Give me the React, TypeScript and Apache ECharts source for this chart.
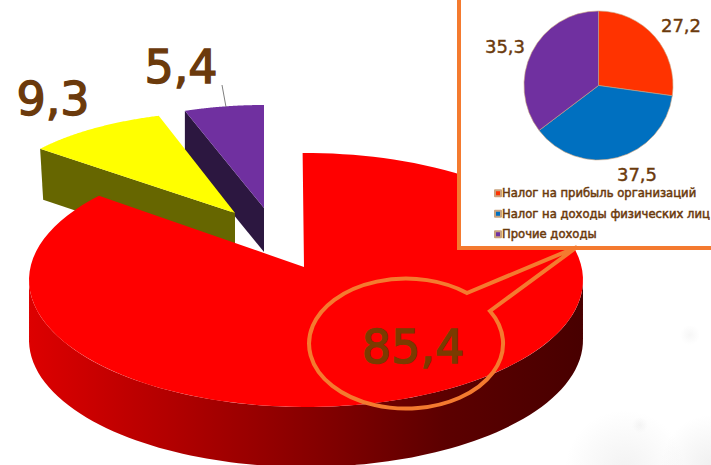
import React, { useEffect, useRef } from "react";
import * as echarts from "echarts";

const mainNames = ["Налог на доходы", "Сегмент 2", "Сегмент 3"];
const mainValues = [85.4, 9.3, 5.4];
const insetNames = ["Налог на прибыль организаций", "Налог на доходы физических лиц", "Прочие доходы"];
const insetValues = [27.2, 37.5, 35.3];
const insetColors = ["#FF3300", "#0070C0", "#7030A0"];
const insetLabelPos = [[681, 25], [637, 174], [505, 46]];

const brown = "#6B3A0C";
const orange = "#F47A2F";

const mainStyle = [
  { ax: 304, ay: 267, ox: 2, oy: 13, rx: 277, ry: 127, depth: 60, warp: -5.4, phase: -0.7, face: "#FF0000", z: 10, label: [413, 347], fill: "#7A3B00" },
  { ax: 235, ay: 213, ox: 0, oy: -11, rx: 240, ry: 91, depth: 51, warp: 6.87, phase: 5.2, face: "#FFFF00", side: "#666600", z: 5, label: [53, 99], fill: brown },
  { ax: 264, ay: 208, ox: 0, oy: 0, rx: 238, ry: 103, depth: 44, warp: 0, phase: 0, face: "#7030A0", side: "#2C1740", z: 1, label: [181, 67], fill: brown },
];

const fmt = (v: number) => String(v).replace(".", ",");
const total = mainValues.reduce((a, b) => a + b, 0);

function rimPoint(s: any, deg: number, dy = 0): number[] {
  const p = deg + s.phase + s.warp * Math.sin((2 * deg * Math.PI) / 180);
  const t = (p * Math.PI) / 180;
  return [s.ax + s.ox + s.rx * Math.sin(t), s.ay + s.oy - s.ry * Math.cos(t) + dy];
}

function renderSlice(params: any, api: any) {
  const i = params.dataIndex;
  const value = api.value(0);
  const s = mainStyle[i];
  let before = 0;
  for (let k = 0; k < i; k++) before += mainValues[k];
  const a0 = (before / total) * 360;
  const a1 = ((before + value) / total) * 360;
  const pts: number[][] = [[s.ax, s.ay]];
  for (let a = a0; a <= a1 + 1e-6; a += (a1 - a0) / 120) pts.push(rimPoint(s, a));
  const children: any[] = [];
  if (i === 0) {
    const top: number[][] = [];
    const bottom: number[][] = [];
    for (let a = 90; a <= 270; a += 2) {
      top.push(rimPoint(s, a));
      bottom.push(rimPoint(s, a, s.depth));
    }
    children.push({
      type: "polygon",
      z2: s.z,
      shape: { points: top.concat(bottom.reverse()) },
      style: {
        fill: new echarts.graphic.LinearGradient(1, 0, 0, 0, [
          { offset: 0, color: "#480000" },
          { offset: 0.25, color: "#5C0000" },
          { offset: 0.51, color: "#8A0000" },
          { offset: 1, color: "#DD0000" },
        ]),
      },
    });
  } else {
    const a = rimPoint(s, a0);
    children.push({
      type: "polygon",
      z2: s.z,
      shape: { points: [a, [s.ax, s.ay], [s.ax, s.ay + s.depth], [a[0] + 3 * (i === 1 ? 1 : 0), a[1] + s.depth]] },
      style: { fill: s.side },
    });
  }
  children.push({ type: "polygon", z2: s.z + 1, shape: { points: pts }, style: { fill: s.face } });
  children.push({
    type: "text",
    z2: 20,
    style: {
      text: fmt(value),
      x: s.label[0],
      y: s.label[1],
      align: "center",
      verticalAlign: "middle",
      fontFamily: "DejaVu Sans",
      fontSize: 46,
      fill: s.fill,
      stroke: s.fill,
      lineWidth: 1.4,
    },
  });
  if (i === 2) {
    children.push({
      type: "line",
      z2: 20,
      shape: { x1: 222, y1: 85, x2: 226, y2: 107 },
      style: { stroke: "#7F7F7F", lineWidth: 1 },
    });
  }
  return { type: "group", children };
}

echarts.graphic.registerShape(
  "callout",
  echarts.graphic.extendPath("M467 293 L577 247 L490 311 A97 65 0 1 1 467 293 Z", {})
);

export default function App() {
  const ref = useRef<HTMLDivElement>(null);
  useEffect(() => {
    const chart = echarts.init(ref.current!, null, { renderer: "svg" });
    const softSpot = (cx: number, cy: number, r: number, alpha: number) => ({
      type: "circle",
      z: 0,
      silent: true,
      shape: { cx, cy, r },
      style: {
        fill: new echarts.graphic.RadialGradient(0.5, 0.5, 0.5, [
          { offset: 0, color: `rgba(150,150,150,${alpha})` },
          { offset: 1, color: "rgba(150,150,150,0)" },
        ]),
      },
    });
    chart.setOption({
      animation: false,
      backgroundColor: "#FFFFFF",
      legend: {
        orient: "vertical",
        left: 489,
        top: 182,
        z: 4,
        icon: "rect",
        itemWidth: 6,
        itemHeight: 6,
        itemGap: 8,
        data: insetNames,
        selectedMode: false,
        textStyle: {
          color: brown,
          fontFamily: "DejaVu Sans",
          fontSize: 11.6,
          padding: [0, 0, 0, -4],
          textBorderColor: brown,
          textBorderWidth: 0.5,
        },
      },
      graphic: {
        elements: [
          softSpot(625, 470, 60, 0.12),
          softSpot(711, 465, 50, 0.14),
          softSpot(690, 335, 10, 0.08),
          softSpot(640, 425, 8, 0.08),
          {
            type: "rect",
            z: 2,
            shape: { x: 459, y: -10, width: 300, height: 258 },
            style: { fill: "#FFFFFF", stroke: orange, lineWidth: 4 },
          },
          {
            type: "callout",
            z: 6,
            x: 0,
            y: 0,
            style: { fill: "none", stroke: orange, lineWidth: 4, lineJoin: "miter" },
          },
        ],
      },
      series: [
        {
          type: "custom",
          coordinateSystem: "none",
          z: 1,
          renderItem: renderSlice,
          data: mainValues.map((v, i) => ({ name: mainNames[i], value: [v] })),
        },
        {
          type: "pie",
          z: 3,
          center: [598.5, 85.5],
          radius: [0, 74.5],
          startAngle: 90,
          clockwise: true,
          silent: true,
          itemStyle: { borderColor: "#C9A27E", borderWidth: 0.6 },
          label: {
            show: true,
            position: "inside",
            formatter: (p: any) => fmt(p.value),
            color: brown,
            fontFamily: "DejaVu Sans",
            fontSize: 18,
            textBorderColor: brown,
            textBorderWidth: 0.4,
          },
          labelLine: { show: false },
          labelLayout: (p: any) => ({
            x: insetLabelPos[p.dataIndex][0],
            y: insetLabelPos[p.dataIndex][1],
            align: "center",
            verticalAlign: "middle",
          }),
          data: insetValues.map((v, i) => ({
            name: insetNames[i],
            value: v,
            itemStyle: { color: insetColors[i] },
          })),
        },
      ],
    });
    return () => chart.dispose();
  }, []);
  return <div ref={ref} style={{ position: "fixed", left: 0, top: 0, width: 711, height: 465 }} />;
}
